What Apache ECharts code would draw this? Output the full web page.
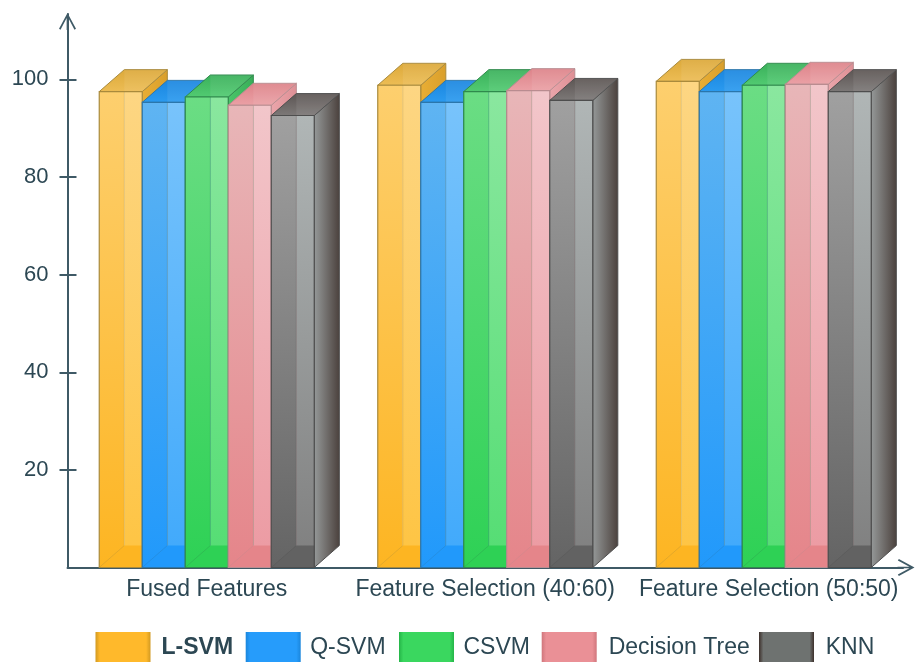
<!DOCTYPE html>
<html>
<head>
<meta charset="utf-8">
<style>html,body{margin:0;padding:0;background:#fff}#chart{width:917px;height:662px}</style>
<script src="https://cdn.jsdelivr.net/npm/echarts@6/dist/echarts.min.js"></script>
</head>
<body>
<div id="chart"></div>
<script>
// Classifier accuracy for each feature set
const categories = ['Fused Features', 'Feature Selection (40:60)', 'Feature Selection (50:50)'];
const lSvm = [97.5, 98.8, 99.6];
const qSvm = [95.3, 95.3, 97.5];
const cSvm = [96.4, 97.5, 98.8];
const decisionTree = [94.7, 97.7, 99.0];
const knn = [92.6, 95.7, 97.5];
const yTicks = [20, 40, 60, 80, 100];

// Face colours of each box: front left/right at top and bottom, lid, side, edge; legend placement
const palettes = [
  { name: 'L-SVM', values: lSvm, topL: '#fdcf6e', topR: '#fdd683', botL: '#fdb522', botR: '#fec442', floor: '#fdb522',
    lidBack: '#dca93a', lidFront: '#edbd55', sideA: '#e9ae35', sideB: '#d99f2c', edge: '#a98a3c', swEdge: '#d29a22', swMid: '#ffb92b', legendLeft: 95.5, gap: 6 },
  { name: 'Q-SVM', values: qSvm, topL: '#5fb4f2', topR: '#78c3fb', botL: '#2199fb', botR: '#40a9fb', floor: '#2199fb',
    lidBack: '#1b86df', lidFront: '#2b9bf0', sideA: '#2a96ea', sideB: '#1c84d8', edge: '#2b76ab', swEdge: '#1a86dc', swMid: '#269cfb', legendLeft: 245.7, gap: 4.5 },
  { name: 'CSVM', values: cSvm, topL: '#6bdd84', topR: '#8ae79f', botL: '#2ed155', botR: '#54dd73', floor: '#2ed155',
    lidBack: '#3ab05a', lidFront: '#52cb72', sideA: '#4bc66a', sideB: '#38ad58', edge: '#2f8a4c', swEdge: '#25b548', swMid: '#3ad75f', legendLeft: 399, gap: 4.5 },
  { name: 'Decision Tree', values: decisionTree, topL: '#e8b6b8', topR: '#f2c6ca', botL: '#e5858a', botR: '#ec9aa2', floor: '#e5858a',
    lidBack: '#dd8389', lidFront: '#eba1a6', sideA: '#eba6ab', sideB: '#de8f95', edge: '#b98c90', swEdge: '#d0767c', swMid: '#ea9096', legendLeft: 541.7, gap: 7 },
  { name: 'KNN', values: knn, topL: '#a0a0a0', topR: '#b0b6b6', botL: '#646464', botR: '#7f7f7f', floor: '#626262',
    lidBack: '#5c5553', lidFront: '#7d7978', sideA: '#969a9a', sideB: '#4a403c', edge: '#4e4e4e', swEdge: '#3d302b', swMid: '#6e7270', legendLeft: 759, gap: 6.7 }
];

const inkColor = '#2c4753';
const axisColor = '#3f5a66';
// Open arrowhead with a short shaft, so the axis line runs right up to the tip
const arrowHead = 'path://M50 0 L100 92 L91 98 L55 30 L55 100 L45 100 L45 30 L9 98 L0 92 Z';

function vGrad(a, b) {
  return { type: 'linear', x: 0, y: 0, x2: 0, y2: 1, colorStops: [{ offset: 0, color: a }, { offset: 1, color: b }] };
}
function hGrad(a, b) {
  return { type: 'linear', x: 0, y: 0, x2: 1, y2: 0, colorStops: [{ offset: 0, color: a }, { offset: 1, color: b }] };
}

const BAR_SHARE = 0.1544;   // bar width as a share of the category band
const DEPTH_X = 0.09;       // horizontal depth as a share of the band
const DEPTH_UNITS = 4.5;    // vertical depth in axis units

function boxRenderer(seriesPos, p) {
  return function (params, api) {
    const catIdx = api.value(0);
    const val = api.value(1);
    const top = api.coord([catIdx, val]);
    const base = api.coord([catIdx, 0]);
    const band = api.size([1, 0])[0];
    const w = band * BAR_SHARE;
    const dx = band * DEPTH_X;
    const dy = api.size([0, DEPTH_UNITS])[1];
    const x0 = top[0] + (seriesPos - 2.5) * w;
    const x1 = x0 + w;
    const xm = x0 + dx;
    const yT = top[1];
    const yB = base[1];
    const poly = (points, fill, stroke, lw) => ({
      type: 'polygon', shape: { points: points },
      style: { fill: fill, stroke: stroke || null, lineWidth: lw || 0 }
    });
    return {
      type: 'group',
      children: [
        poly([[x1, yB], [x1 + dx, yB - dy], [x1 + dx, yT - dy], [x1, yT]], hGrad(p.sideA, p.sideB), p.edge, 1),
        poly([[x0, yT], [x0 + dx, yT - dy], [x1 + dx, yT - dy], [x1, yT]], vGrad(p.lidBack, p.lidFront), p.edge, 1),
        poly([[xm, yT], [xm, yT - dy], [x1 + dx, yT - dy], [x1, yT]], 'rgba(255,255,255,0.07)'),
        poly([[x0, yT], [xm, yT], [xm, yB], [x0, yB]], vGrad(p.topL, p.botL)),
        poly([[xm, yT], [x1, yT], [x1, yB], [xm, yB]], vGrad(p.topR, p.botR)),
        poly([[x0, yB], [xm, yB - dy], [x1, yB - dy], [x1, yB]], p.floor),
        { type: 'line', shape: { x1: x0, y1: yB, x2: xm, y2: yB - dy }, style: { stroke: p.edge, lineWidth: 1, opacity: 0.3 } },
        { type: 'line', shape: { x1: xm, y1: yT, x2: xm, y2: yB - dy }, style: { stroke: p.edge, lineWidth: 1, opacity: 0.3 } },
        poly([[x0, yT], [x1, yT], [x1, yB], [x0, yB]], 'rgba(0,0,0,0)', p.edge, 1.2)
      ]
    };
  };
}

const chart = echarts.init(document.getElementById('chart'), null, { renderer: 'canvas' });
chart.setOption({
  backgroundColor: '#ffffff',
  animation: false,
  grid: { left: 67.5, right: 14, top: 14, bottom: 94.5, containLabel: false },
  // One legend per series: the entries are spaced unevenly along the bottom row
  legend: palettes.map((p, i) => ({
    left: p.legendLeft, top: 632, padding: 0,
    itemWidth: 55, itemHeight: 32,
    textStyle: { color: inkColor, fontFamily: 'Liberation Sans', fontSize: 23 },
    data: [{
      name: p.name,
      icon: 'rect',
      itemStyle: {
        color: {
          type: 'linear', x: 0, y: 0, x2: 1, y2: 0,
          colorStops: [
            { offset: 0, color: p.swEdge }, { offset: 0.08, color: p.swMid },
            { offset: 0.92, color: p.swMid }, { offset: 1, color: p.swEdge }
          ]
        },
        borderWidth: 0
      },
      textStyle: i === 0
        ? { fontWeight: 'bold', color: inkColor, padding: [0, 0, 0, p.gap] }
        : { color: inkColor, padding: [0, 0, 0, p.gap] }
    }]
  })),
  xAxis: {
    type: 'category',
    data: categories.map((c, i) => i === 2 ? { value: c, textStyle: { padding: [0, 0, 0, 10] } } : c),
    boundaryGap: true,
    axisTick: { show: false },
    axisLine: {
      show: true,
      lineStyle: { color: axisColor, width: 2 },
      symbol: ['none', arrowHead], symbolSize: [17, 18], symbolOffset: [0, 3]
    },
    axisLabel: { interval: 0, hideOverlap: false, color: inkColor, fontFamily: 'Liberation Sans', fontSize: 23, margin: 11 }
  },
  yAxis: [
    {
      type: 'value', min: 0, max: 113.4,
      splitLine: { show: false },
      axisLine: {
        show: true,
        lineStyle: { color: axisColor, width: 2 },
        symbol: ['none', arrowHead], symbolSize: [17, 17], symbolOffset: [0, -7.5]
      },
      axisTick: { show: true, length: 8, customValues: yTicks, lineStyle: { color: axisColor, width: 2 } },
      axisLabel: { color: inkColor, fontFamily: 'Liberation Sans', fontSize: 22, margin: 19, customValues: yTicks }
    },
    {
      type: 'value', min: 0, max: 113.4, position: 'left',
      splitLine: { show: false },
      axisLine: { show: false },
      axisTick: { show: true, inside: true, length: 9, customValues: yTicks, lineStyle: { color: axisColor, width: 2 } },
      axisLabel: { show: false }
    }
  ],
  series: palettes.map((p, i) => ({
    type: 'custom',
    name: p.name,
    clip: false,
    xAxisIndex: 0,
    yAxisIndex: 0,
    itemStyle: { color: p.swMid },
    encode: { x: 0, y: 1 },
    data: p.values.map((v, c) => [c, v]),
    renderItem: boxRenderer(i, p)
  }))
});
</script>
</body>
</html>
